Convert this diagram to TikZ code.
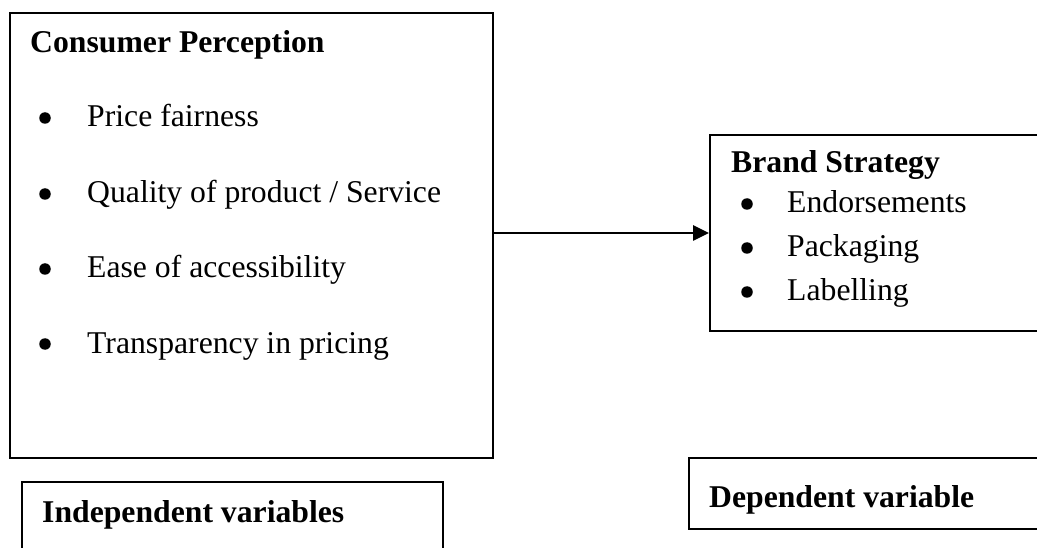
\documentclass[tikz,border=0pt]{standalone}
\usepackage{fontspec}
\setmainfont{Liberation Serif}
\usetikzlibrary{arrows.meta}
\begin{document}
\begin{tikzpicture}[x=1pt,y=-1pt,
  box/.style={draw, line width=2pt, rectangle, inner sep=0pt, anchor=north west},
  txt/.style={anchor=base west, inner sep=0pt, font=\fontsize{31.7}{38}\selectfont},
  ttl/.style={anchor=base west, inner sep=0pt, font=\fontsize{31.7}{38}\selectfont\bfseries},
  dot/.style={circle, fill, inner sep=0pt, minimum size=11.5pt}]
\useasboundingbox (0,0) rectangle (1037,548);
\clip (0,0) rectangle (1037,548);
% boxes
\node[box, minimum width=483pt, minimum height=445pt] (cons) at (9,12) {};
\node[box, minimum width=340pt, minimum height=196pt] (brand) at (709,134) {};
\node[box, minimum width=421pt, minimum height=100pt] (indep) at (21,481) {};
\node[box, minimum width=360pt, minimum height=71pt] (dep) at (688,457) {};
% connector
\coordinate (ay) at (0,233);
\draw[line width=2.6pt, -{Triangle[length=16pt,width=15pt]}] (cons.east |- ay) -- (brand.west |- ay);
% consumer perception
\node[ttl] (ctitle) at (30,53) {Consumer Perception};
\node[dot] (b1) at (45,118) {};
\node[txt] (c1) at (87,127) {Price fairness};
\node[dot] (b2) at (45,194) {};
\node[txt] (c2) at (87,203) {Quality of product / Service};
\node[dot] (b3) at (45,269) {};
\node[txt] (c3) at (87,278) {Ease of accessibility};
\node[dot] (b4) at (45,344) {};
\node[txt] (c4) at (87,353) {Transparency in pricing};
% brand strategy
\node[ttl] (btitle) at (731,173) {Brand Strategy};
\node[dot] (d1) at (747,204) {};
\node[txt] (e1) at (787,213) {Endorsements};
\node[dot] (d2) at (747,248) {};
\node[txt] (e2) at (787,257) {Packaging};
\node[dot] (d3) at (747,292) {};
\node[txt] (e3) at (787,301) {Labelling};
% labels
\node[ttl] (itxt) at (42,522) {Independent variables};
\node[ttl] (dtxt) at (709,507) {Dependent variable};
\end{tikzpicture}
\end{document}
